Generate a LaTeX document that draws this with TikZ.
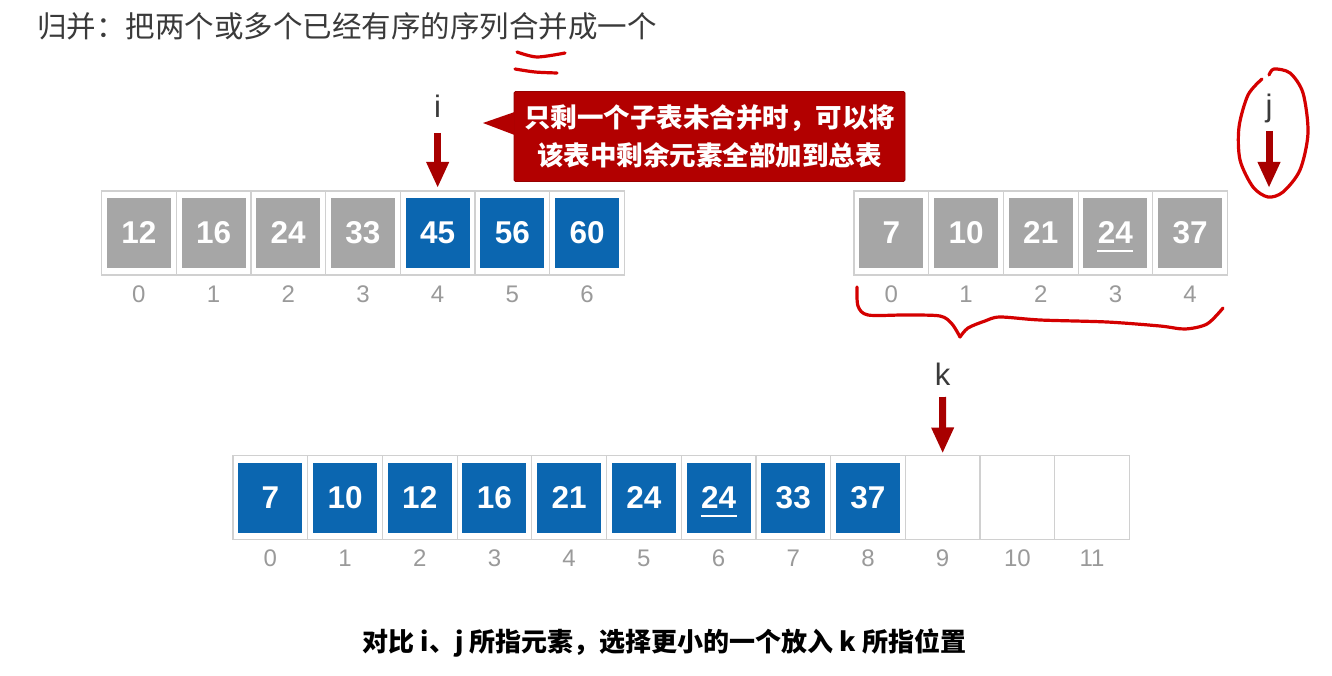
\documentclass[tikz,border=0pt]{standalone}
\usepackage{fontspec}
\setmainfont{Liberation Sans}
\newfontfamily\cjk{Noto Sans CJK SC}
\usetikzlibrary{arrows.meta}
\definecolor{cellgray}{HTML}{A6A6A6}
\definecolor{cellblue}{HTML}{0B66B0}
\definecolor{framegray}{HTML}{D0D0D0}
\definecolor{idxgray}{HTML}{9A9A9A}
\definecolor{ptrred}{HTML}{A80000}
\definecolor{callred}{HTML}{B20000}
\definecolor{inkred}{HTML}{D40000}
\definecolor{txtgray}{HTML}{3A3A3A}
\begin{document}
\begin{tikzpicture}[x=1pt,y=-1pt,
  slot/.style={draw=framegray, line width=1.2pt, fill=white, minimum width=74.7pt, minimum height=84pt, inner sep=0pt, outer sep=0pt},
  val/.style={minimum width=64pt, minimum height=70pt, inner sep=0pt, text=white, font=\fontsize{31.5}{31.5}\selectfont\bfseries},
  oldv/.style={val, fill=cellgray},
  newv/.style={val, fill=cellblue},
  idx/.style={text=idxgray, inner sep=0pt, anchor=base, font=\fontsize{24}{24}\selectfont},
  ptr/.style={draw=ptrred, line width=7pt, -{Triangle[width=21pt,length=26pt]}},
  lab/.style={text=txtgray, inner sep=0pt, anchor=base, font=\fontsize{31}{31}\selectfont},
  inkline/.style={draw=inkred, line width=3.2pt, line cap=round, line join=round},
  uline/.style={draw=white, line width=2pt}
]
\useasboundingbox[fill=white] (0,0) rectangle (1332,676);

% title
\node[anchor=west, inner sep=0pt, text=txtgray, font=\cjk\fontsize{29.5}{29.5}\selectfont] (title) at (37,26) {归并：把两个或多个已经有序的序列合并成一个};

% first array
\foreach \i in {0,...,6}{
  \node[slot] (a\i) at ({101.5+37.35+74.7*\i},233) {};
  \node[idx] (ai\i) at ({101.5+37.35+74.7*\i},302.5) {\i};
}
\foreach \v [count=\i from 0] in {12,16,24,33}{
  \node[oldv] (av\i) at (a\i) {\v};
}
\foreach \v [count=\i from 4] in {45,56,60}{
  \node[newv] (av\i) at (a\i) {\v};
}

% second array
\foreach \v [count=\i from 0] in {7,10,21,24,37}{
  \node[slot] (b\i) at ({854+37.35+74.7*\i},233) {};
  \node[idx] (bi\i) at ({854+37.35+74.7*\i},302.5) {\i};
  \node[oldv] (bv\i) at (b\i) {\v};
}
\draw[uline] ([xshift=-18pt,yshift=-18.5pt]bv3.center) -- ([xshift=18pt,yshift=-18.5pt]bv3.center);

% merged array
\foreach \i in {0,...,11}{
  \node[slot] (c\i) at ({233+37.35+74.7*\i},497.5) {};
  \node[idx] (ci\i) at ({233+37.35+74.7*\i},566) {\i};
}
\foreach \v [count=\i from 0] in {7,10,12,16,21,24,24,33,37}{
  \node[newv] (cv\i) at (c\i) {\v};
}
\draw[uline] ([xshift=-18pt,yshift=-18.5pt]cv6.center) -- ([xshift=18pt,yshift=-18.5pt]cv6.center);

% pointers
\node[lab] (ilab) at (437.65,118) {i};
\coordinate (itop) at (437.65,133);
\draw[ptr, shorten >=3pt] (itop) -- (a4.north);

\node[lab] (jlab) at (1269,117) {j};
\coordinate (jtop) at (1269,131);
\coordinate (jtip) at (1269,188);
\draw[ptr] (jtop) -- (jtip);

\node[lab] (klab) at (942.6,385) {k};
\coordinate (ktop) at (942.6,397);
\draw[ptr, shorten >=2pt] (ktop) -- (c9.north);

% callout
\node[fill=callred, draw=callred!85!black, line width=0.8pt, rounded corners=1.5pt, minimum width=391pt, minimum height=90pt, inner sep=0pt, align=center, text=white, font=\cjk\bfseries\fontsize{26.5}{38}\selectfont] (call) at (709.5,136.5) {只剩一个子表未合并时，可以将\\该表中剩余元素全部加到总表};
\coordinate (calltip) at (483,123);
\fill[callred] ([xshift=1pt]call.west |- 0,112) -- (calltip) -- ([xshift=1pt]call.west |- 0,135) -- cycle;

% caption
\node[inner sep=0pt, text=black, font=\cjk\bfseries\fontsize{26}{26}\selectfont] (caption) at (664.5,643) {对比 i、j 所指元素，选择更小的一个放入 k 所指位置};

% hand-drawn annotations
\draw[inkline] plot[smooth] coordinates {(517,52) (537,57) (565,53)};
\draw[inkline] plot[smooth] coordinates {(515,69) (535,72) (557,73)};
\draw[inkline] plot[smooth] coordinates {(1262,79) (1248,95) (1239,127) (1240,160) (1253,187) (1268,197) (1283,192) (1300,170) (1308,133) (1303,93) (1290,73) (1274,69) (1269,75)};
\draw[inkline] plot[smooth] coordinates {(857,287) (858,306) (868,315) (905,315) (940,316) (952,324) (960,337)};
\draw[inkline] plot[smooth] coordinates {(960,337) (968,328) (985,321) (1000,317) (1040,320) (1107,322) (1160,326) (1185,329) (1207,324) (1223,308)};
\end{tikzpicture}
\end{document}
